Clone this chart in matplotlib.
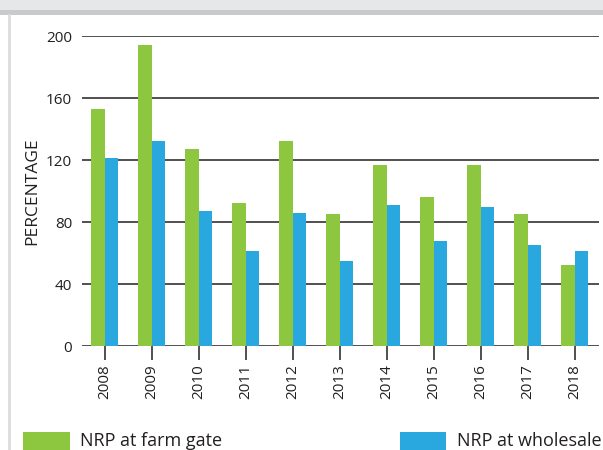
import matplotlib.pyplot as plt
import numpy as np
from matplotlib.patches import Rectangle
from matplotlib.lines import Line2D

plt.rcParams['font.family'] = ['Open Sans', 'DejaVu Sans']

# Data
years = ["2008", "2009", "2010", "2011", "2012", "2013",
         "2014", "2015", "2016", "2017", "2018"]
farm_gate = [153, 194, 127, 92, 132, 85, 117, 96, 117, 85, 52]
wholesale = [121, 132, 87, 61, 86, 55, 91, 68, 90, 65, 61]
series_names = ["NRP at farm gate", "NRP at wholesale"]
green = "#8dc63f"
blue = "#29a8e0"

fig = plt.figure(figsize=(6.03, 4.5), dpi=100)

# page decoration: grey band on top and thin line on the left
fig.add_artist(Rectangle((0, 1 - 10 / 450), 1, 10 / 450, transform=fig.transFigure,
                         facecolor="#e6e7e8", edgecolor="none"))
fig.add_artist(Rectangle((0, 1 - 15 / 450), 1, 5 / 450, transform=fig.transFigure,
                         facecolor="#c9cacb", edgecolor="none"))
fig.add_artist(Line2D([9 / 603, 9 / 603], [0, 1 - 15 / 450], transform=fig.transFigure,
                      color="#dcdddd", linewidth=2))

ax = fig.add_axes([82 / 603, 1 - 346 / 450, 517 / 603, 310 / 450])

x = np.arange(len(years))
w = 0.29
ax.bar(x - w / 2, farm_gate, w, color=green, label=series_names[0], zorder=3)
ax.bar(x + w / 2, wholesale, w, color=blue, label=series_names[1], zorder=3)

ax.set_ylim(0, 200)
ax.set_xlim(-0.48, 10.52)
ax.set_yticks(range(0, 201, 40))
ax.yaxis.grid(True, color="#231f20", linewidth=1.1, zorder=0)
ax.set_axisbelow(True)
for s in ["top", "right", "left", "bottom"]:
    ax.spines[s].set_visible(False)

ax.set_xticks(x)
ax.set_xticklabels(years, rotation=90, fontsize=11, color="#231f20")
ax.tick_params(axis="x", length=10, width=1.1, color="#231f20", pad=3)
ax.tick_params(axis="y", length=0, pad=7, labelsize=11, labelcolor="#231f20")
ax.set_ylabel("PERCENTAGE", fontsize=12.5, color="#231f20", labelpad=4)

# legend along the bottom
fig.add_artist(Rectangle((23 / 603, 0), 47 / 603, 18 / 450, transform=fig.transFigure,
                         facecolor=green, edgecolor="none"))
fig.text(80 / 603, 9 / 450, series_names[0], fontsize=13, va="center", color="#231f20")
fig.add_artist(Rectangle((400 / 603, 0), 46 / 603, 18 / 450, transform=fig.transFigure,
                         facecolor=blue, edgecolor="none"))
fig.text(457 / 603, 9 / 450, series_names[1], fontsize=13, va="center", color="#231f20")

fig.savefig("out.png", dpi=100)
